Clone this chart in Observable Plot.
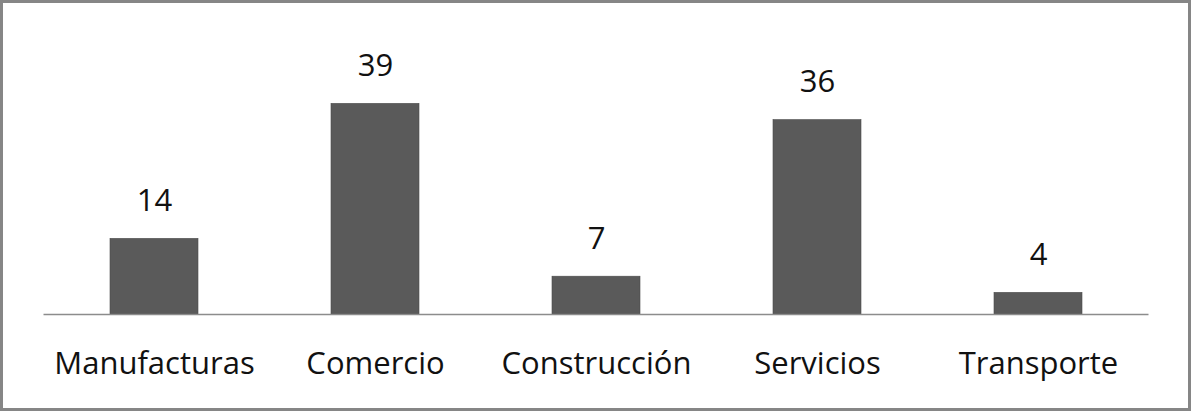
<!DOCTYPE html>
<html>
<head>
<meta charset="utf-8">
<script src="https://cdn.jsdelivr.net/npm/d3@7"></script>
<script src="https://cdn.jsdelivr.net/npm/@observablehq/plot@0.6"></script>
<style>
  html, body { margin: 0; padding: 0; background: #fff; }
  #frame { width: 1191px; height: 411px; box-sizing: border-box; border: 3px solid #868686; background: #fff; overflow: hidden; }
  #frame svg { display: block; }
</style>
</head>
<body>
<div id="frame"></div>
<script>
const categories = ["Manufacturas", "Comercio", "Construcción", "Servicios", "Transporte"];
const values = [14, 39, 7, 36, 4];

const data = categories.map((c, i) => ({category: c, value: values[i]}));

const chart = Plot.plot({
  width: 1185,
  height: 405,
  marginLeft: 40.5,
  marginRight: 39.5,
  marginTop: 41,
  marginBottom: 94,
  style: {fontFamily: "'Open Sans', Lato, sans-serif", background: "#fff"},
  x: {domain: categories, paddingInner: 0.6, paddingOuter: 0.3, axis: null},
  y: {domain: [0, 50], axis: null},
  marks: [
    Plot.barY(data, {x: "category", y: "value", fill: "#5a5a5a", stroke: "#4a4a4a", strokeWidth: 0.6}),
    Plot.ruleY([0], {stroke: "#8c8c8c", strokeWidth: 1.5}),
    Plot.text(data, {x: "category", y: "value", text: d => String(d.value), dy: -38, lineAnchor: "middle", fontSize: 31, fill: "#111"}),
    Plot.text(data, {x: "category", y: 0, text: "category", dy: 50, lineAnchor: "middle", fontSize: 31, fill: "#111"})
  ]
});
document.getElementById("frame").appendChild(chart);
</script>
</body>
</html>
